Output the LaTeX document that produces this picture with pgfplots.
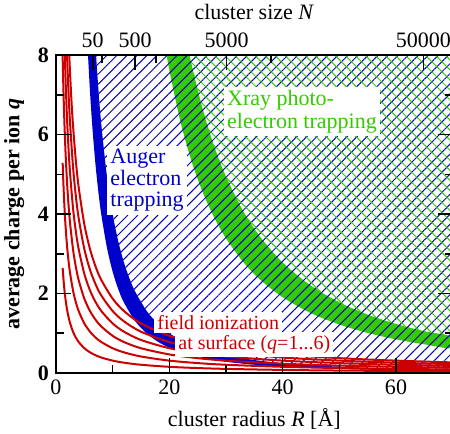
\documentclass[border=0pt]{standalone}
\usepackage{pgfplots}
\pgfplotsset{compat=1.18}
\usetikzlibrary{patterns.meta}
\usepackage{fontspec}
\setmainfont{Liberation Serif}

\definecolor{cred}{RGB}{204,0,0}
\definecolor{cblue}{RGB}{0,0,204}
\definecolor{cgreen}{RGB}{51,204,0}

\pgfplotsset{
  chartbase/.style={
    width=198.3pt, height=158.9pt, scale only axis,
    xmin=0, xmax=70, ymin=0, ymax=8,
    axis line style={line width=1pt},
    tick style={line width=0.8pt, black},
    major tick length=7.5pt, minor tick length=4pt,
    tick align=inside,
    /pgf/number format/assume math mode=true,
    tick label style={font=\fontsize{11}{13}\selectfont},
    label style={font=\fontsize{11}{13}\selectfont},
  }
}

\begin{document}
\begin{tikzpicture}
\begin{axis}[chartbase,
  axis on top,
  xtick={0,20,40,60}, minor xtick={10,30,50},
  ytick={0,2,4,6,8}, minor ytick={1,3,5,7},
  xtick pos=left, ytick pos=both,
  yticklabel style={font=\fontsize{11}{13}\selectfont\bfseries},
  xlabel={cluster radius \textit{R} [Å]},
  ylabel={\bfseries average charge per ion \textit{q}},
]
% green band: xray photoelectron trapping
\addplot[fill=cgreen, draw=none, smooth] coordinates {
  (22,9.194) (23,8.412) (24,7.726) (26,6.583) (28,5.676) (30,4.944) (33,4.086)
  (36,3.434) (40,2.781) (45,2.198) (50,1.780) (55,1.471) (60,1.236) (65,1.053) (70,0.908)
  (70,0.622) (65,0.722) (60,0.847) (55,1.008) (50,1.220) (45,1.506) (40,1.906)
  (36,2.353) (33,2.801) (30,3.389) (28,3.890) (26,4.512) (24,5.295) (22,6.302)
  (20,7.625) (19,8.449) (18,9.414)};
% blue hatching right of the Auger band
\addplot[pattern={Lines[angle=45,distance=3.55pt,line width=0.5pt]}, pattern color=cblue, draw=none, smooth] coordinates {
  (6.5,9.467) (7,8.163) (7.5,7.111) (8,6.250) (9,4.938) (10,4.000) (11,3.306) (12,2.778)
  (13,2.367) (14,2.041) (16,1.563) (18,1.235) (20,1.000) (23,0.756) (26,0.592) (30,0.444)
  (35,0.327) (40,0.250) (50,0.160) (60,0.111) (70,0.082) (72,0.08) (72,10) (6.5,10)};
% green hatching right of the xray band
\addplot[pattern={Lines[angle=-45,distance=3.55pt,line width=0.5pt]}, pattern color=cgreen, draw=none, smooth] coordinates {
  (22,9.194) (23,8.412) (24,7.726) (26,6.583) (28,5.676) (30,4.944) (33,4.086)
  (36,3.434) (40,2.781) (45,2.198) (50,1.780) (55,1.471) (60,1.236) (65,1.053) (70,0.908)
  (72,0.86) (72,10) (22,10)};
% blue band: Auger electron trapping
\addplot[fill=cblue, draw=none, smooth] coordinates {
  (6.5,9.467) (7,8.163) (7.5,7.111) (8,6.250) (9,4.938) (10,4.000) (11,3.306) (12,2.778)
  (13,2.367) (14,2.041) (16,1.563) (18,1.235) (20,1.000) (23,0.756) (26,0.592) (30,0.444)
  (35,0.327) (40,0.250) (50,0.160) (60,0.111) (70,0.082)
  (70,0.052) (60,0.071) (50,0.102) (40,0.159) (35,0.208) (30,0.283) (26,0.377) (23,0.482)
  (20,0.638) (18,0.787) (16,0.996) (14,1.301) (12,1.771) (11,2.107) (10,2.550) (9,3.148)
  (8,3.984) (7.5,4.533) (7,5.204) (6.5,6.036) (6,7.083) (5.5,8.430) (5.2,9.430)};
% field ionization at surface, q = 1..6
\addplot[cred, line width=1pt, smooth] coordinates {
  (1.18,2.644) (1.25,2.496) (1.35,2.311) (1.5,2.080) (1.7,1.835) (2,1.560) (2.4,1.300)
  (3,1.040) (3.5,0.891) (4,0.780) (5,0.624) (6,0.520) (7,0.446) (8,0.390) (10,0.312)
  (12,0.260) (15,0.208) (20,0.156) (25,0.125) (30,0.104) (40,0.078) (50,0.062) (60,0.052) (70,0.045)};
\addplot[cred, line width=1pt, smooth] coordinates {
  (1.18,5.288) (1.25,4.992) (1.35,4.622) (1.5,4.160) (1.7,3.671) (2,3.120) (2.4,2.600)
  (3,2.080) (3.5,1.783) (4,1.560) (5,1.248) (6,1.040) (7,0.891) (8,0.780) (10,0.624)
  (12,0.520) (15,0.416) (20,0.312) (25,0.250) (30,0.208) (40,0.156) (50,0.125) (60,0.104) (70,0.089)};
\addplot[cred, line width=1pt, smooth] coordinates {
  (1.1,8.509) (1.18,7.932) (1.25,7.488) (1.35,6.933) (1.5,6.240) (1.7,5.506) (2,4.680)
  (2.4,3.900) (3,3.120) (3.5,2.674) (4,2.340) (5,1.872) (6,1.560) (7,1.337) (8,1.170)
  (10,0.936) (12,0.780) (15,0.624) (20,0.468) (25,0.374) (30,0.312) (40,0.234) (50,0.187) (60,0.156) (70,0.134)};
\addplot[cred, line width=1pt, smooth] coordinates {
  (1.1,11.345) (1.25,9.984) (1.35,9.244) (1.5,8.320) (1.7,7.341) (2,6.240) (2.4,5.200)
  (3,4.160) (3.5,3.566) (4,3.120) (5,2.496) (6,2.080) (7,1.783) (8,1.560) (10,1.248)
  (12,1.040) (15,0.832) (20,0.624) (25,0.499) (30,0.416) (40,0.312) (50,0.250) (60,0.208) (70,0.178)};
\addplot[cred, line width=1pt, smooth] coordinates {
  (1.35,11.556) (1.5,10.400) (1.7,9.176) (2,7.800) (2.4,6.500) (3,5.200) (3.5,4.457)
  (4,3.900) (5,3.120) (6,2.600) (7,2.229) (8,1.950) (10,1.560) (12,1.300) (15,1.040)
  (20,0.780) (25,0.624) (30,0.520) (40,0.390) (50,0.312) (60,0.260) (70,0.223)};
\addplot[cred, line width=1pt, smooth] coordinates {
  (1.5,12.480) (1.7,11.012) (2,9.360) (2.2,8.509) (2.4,7.800) (2.7,6.933) (3,6.240)
  (3.5,5.349) (4,4.680) (5,3.744) (6,3.120) (7,2.674) (8,2.340) (10,1.872) (12,1.560)
  (15,1.248) (20,0.936) (25,0.749) (30,0.624) (40,0.468) (50,0.374) (60,0.312) (70,0.267)};

\node[anchor=west, align=left, fill=white, inner sep=1.5pt, text=cblue,
  font=\fontsize{11}{10.8}\selectfont] at (axis cs:9.0,4.85) {Auger\\electron\\trapping};
\node[anchor=west, align=left, fill=white, inner sep=1.5pt, text=cgreen,
  font=\fontsize{11}{11.5}\selectfont] at (axis cs:29.6,6.57) {Xray photo-\\electron trapping};
\node[anchor=west, fill=white, inner sep=1.5pt, text=cred,
  font=\fontsize{10}{12}\selectfont] at (axis cs:17.3,1.27) {field ionization};
\node[anchor=west, fill=white, inner sep=1.5pt, text=cred,
  font=\fontsize{10}{12}\selectfont] at (axis cs:21.0,0.72) {at surface (\textit{q}=1...6)};

\coordinate (bl) at (axis cs:-9.88,-1.519);
\coordinate (tr) at (axis cs:69.53,9.388);
\end{axis}
\begin{axis}[chartbase,
  axis x line*=top, hide y axis,
  xtick={6.484,13.969,30.096,64.839}, xticklabels={50,500,5000,50000},
  minor xtick={8.169,17.6,37.918},
  xlabel={cluster size \textit{N}},
]
\end{axis}
\pgfresetboundingbox
\path[use as bounding box] (bl) rectangle (tr);
\end{tikzpicture}
\end{document}
